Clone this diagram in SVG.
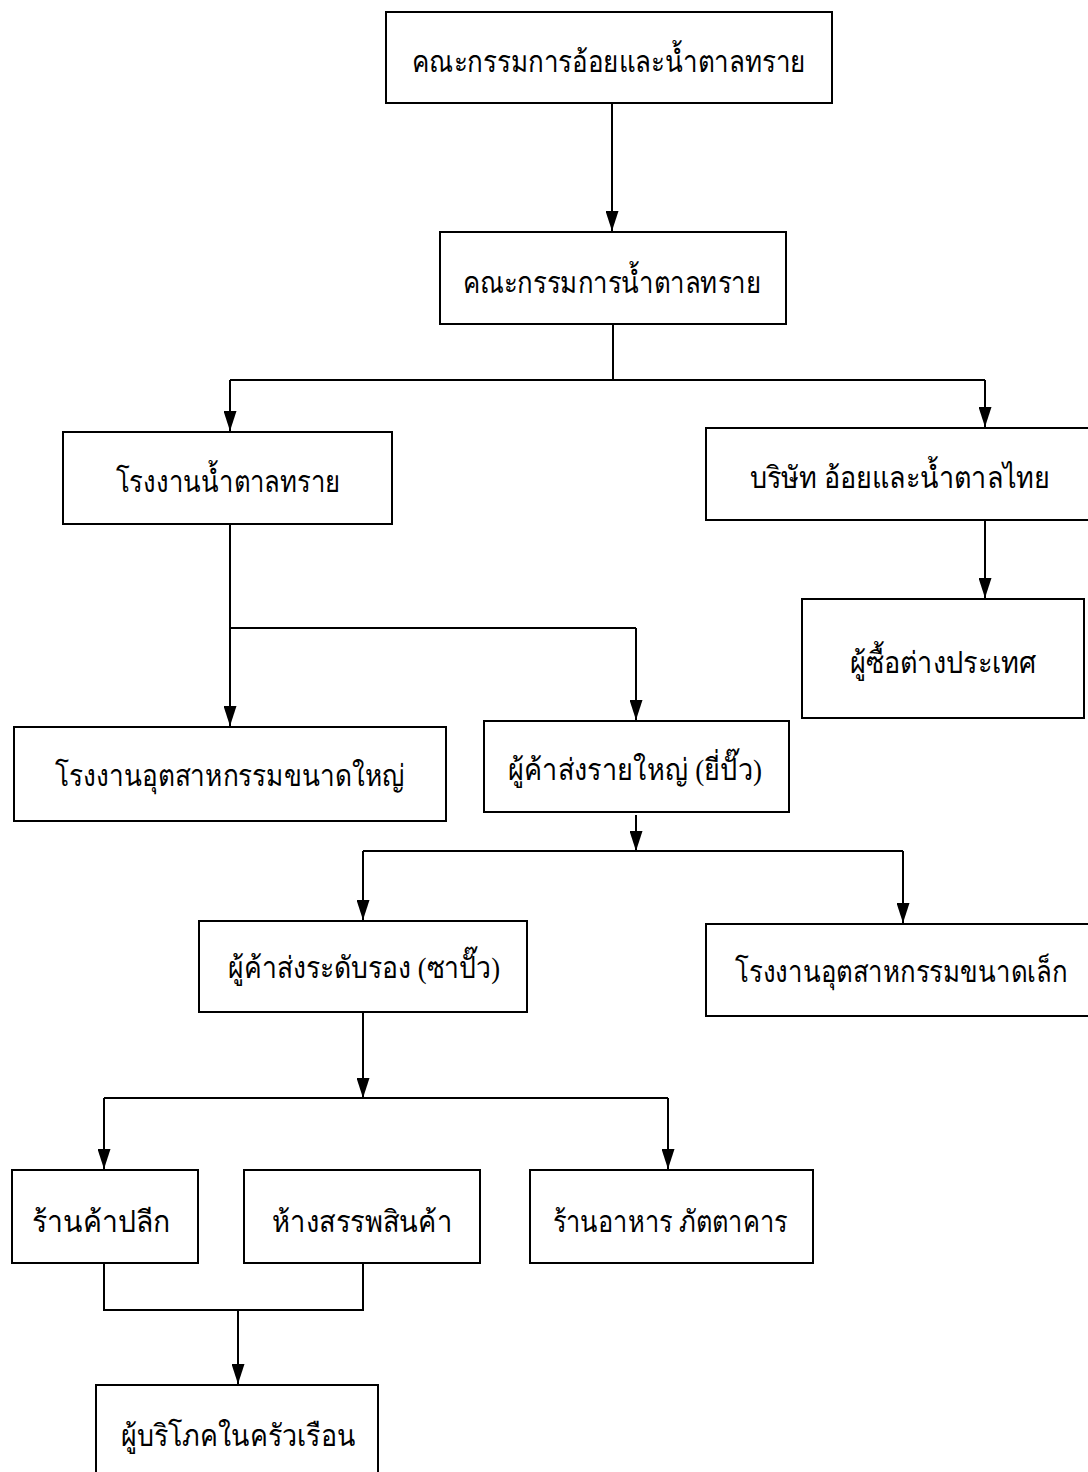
<svg xmlns="http://www.w3.org/2000/svg" width="1088" height="1472" viewBox="0 0 1088 1472">
<style>
.box{fill:#fff;stroke:#000;stroke-width:2}
.t{font-family:"Liberation Serif","Noto Sans","DejaVu Sans",serif;font-size:30px;fill:#000;text-anchor:middle}
.c{fill:none;stroke:#000;stroke-width:2}
</style>
<defs>
<marker id="a" markerWidth="20" markerHeight="13" refX="20" refY="6.5" orient="auto" markerUnits="userSpaceOnUse" viewBox="0 0 20 13">
<path d="M0,0 L20,6.5 L0,13 Z" fill="#000"/>
</marker>
</defs>
<g id="connectors">
<path class="c" d="M612,103 V231" marker-end="url(#a)"/>
<path class="c" d="M613,324 V380"/>
<path class="c" d="M230,380 H985"/>
<path class="c" d="M230,380 V431" marker-end="url(#a)"/>
<path class="c" d="M985,380 V427" marker-end="url(#a)"/>
<path class="c" d="M985,520 V598" marker-end="url(#a)"/>
<path class="c" d="M230,524 V628 H636"/>
<path class="c" d="M230,628 V726" marker-end="url(#a)"/>
<path class="c" d="M636,628 V720" marker-end="url(#a)"/>
<path class="c" d="M636,815 V851" marker-end="url(#a)"/>
<path class="c" d="M363,851 H903"/>
<path class="c" d="M363,851 V920" marker-end="url(#a)"/>
<path class="c" d="M903,851 V923" marker-end="url(#a)"/>
<path class="c" d="M363,1012 V1098" marker-end="url(#a)"/>
<path class="c" d="M104,1098 H668"/>
<path class="c" d="M104,1098 V1169" marker-end="url(#a)"/>
<path class="c" d="M668,1098 V1169" marker-end="url(#a)"/>
<path class="c" d="M104,1263 V1310 H363 V1263"/>
<path class="c" d="M238,1310 V1384" marker-end="url(#a)"/>
</g>
<g id="n1"><rect class="box" x="386" y="12" width="446" height="91"/><text class="t" x="609" y="72" textLength="394" lengthAdjust="spacingAndGlyphs">คณะกรรมการอ้อยและน้ำตาลทราย</text></g>
<g id="n2"><rect class="box" x="440" y="232" width="346" height="92"/><text class="t" x="612" y="293" textLength="299" lengthAdjust="spacingAndGlyphs">คณะกรรมการน้ำตาลทราย</text></g>
<g id="n3"><rect class="box" x="63" y="432" width="329" height="92"/><text class="t" x="228" y="492" textLength="225" lengthAdjust="spacingAndGlyphs">โรงงานน้ำตาลทราย</text></g>
<g id="n4"><rect class="box" x="706" y="428" width="390" height="92"/><text class="t" x="900" y="488" textLength="301" lengthAdjust="spacingAndGlyphs">บริษัท อ้อยและน้ำตาลไทย</text></g>
<g id="n5"><rect class="box" x="802" y="599" width="282" height="119"/><text class="t" x="943" y="673" textLength="187" lengthAdjust="spacingAndGlyphs">ผู้ซื้อต่างประเทศ</text></g>
<g id="n6"><rect class="box" x="14" y="727" width="432" height="94"/><text class="t" x="230" y="786" textLength="350" lengthAdjust="spacingAndGlyphs">โรงงานอุตสาหกรรมขนาดใหญ่</text></g>
<g id="n7"><rect class="box" x="484" y="721" width="305" height="91"/><text class="t" x="635" y="780" textLength="254" lengthAdjust="spacingAndGlyphs">ผู้ค้าส่งรายใหญ่ (ยี่ปั๊ว)</text></g>
<g id="n8"><rect class="box" x="199" y="921" width="328" height="91"/><text class="t" x="364" y="978" textLength="272" lengthAdjust="spacingAndGlyphs">ผู้ค้าส่งระดับรอง (ซาปั๊ว)</text></g>
<g id="n9"><rect class="box" x="706" y="924" width="390" height="92"/><text class="t" x="901" y="982" textLength="332" lengthAdjust="spacingAndGlyphs">โรงงานอุตสาหกรรมขนาดเล็ก</text></g>
<g id="n10"><rect class="box" x="12" y="1170" width="186" height="93"/><text class="t" x="101" y="1232" textLength="138" lengthAdjust="spacingAndGlyphs">ร้านค้าปลีก</text></g>
<g id="n11"><rect class="box" x="244" y="1170" width="236" height="93"/><text class="t" x="362" y="1232" textLength="180" lengthAdjust="spacingAndGlyphs">ห้างสรรพสินค้า</text></g>
<g id="n12"><rect class="box" x="530" y="1170" width="283" height="93"/><text class="t" x="670" y="1232" textLength="235" lengthAdjust="spacingAndGlyphs">ร้านอาหาร ภัตตาคาร</text></g>
<g id="n13"><rect class="box" x="96" y="1385" width="282" height="95"/><text class="t" x="238" y="1446" textLength="235" lengthAdjust="spacingAndGlyphs">ผู้บริโภคในครัวเรือน</text></g>
</svg>
